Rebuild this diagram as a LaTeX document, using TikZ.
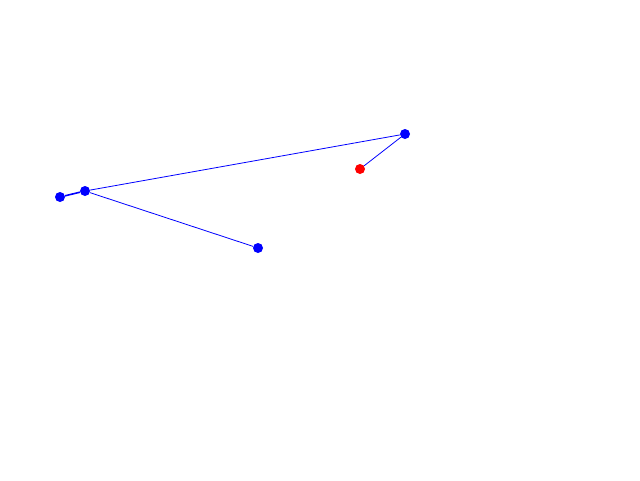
\documentclass[tikz,border=0pt]{standalone}
\begin{document}
\begin{tikzpicture}[x=1pt,y=-1pt,
  dotb/.style={circle,fill=blue,inner sep=0pt,minimum size=10pt},
  dotr/.style={circle,fill=red,inner sep=0pt,minimum size=10pt},
  edge/.style={blue,line width=0.8pt}]
\useasboundingbox (0,0) rectangle (640,480);
\node[dotb] (a) at (60,197) {};
\node[dotb] (b) at (85,191) {};
\node[dotb] (c) at (405,134) {};
\node[dotr] (r) at (360,169) {};
\node[dotb] (d) at (258,248) {};
\draw[edge,line width=1.6pt] (a) -- (b);
\draw[edge] (b) -- (c);
\draw[edge] (c) -- (r);
\draw[edge] (b) -- (d);
\end{tikzpicture}
\end{document}
